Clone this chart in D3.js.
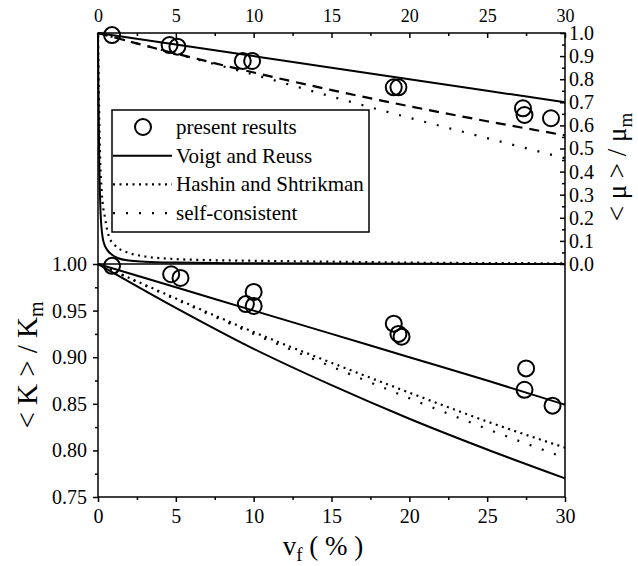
<!DOCTYPE html>
<meta charset="utf-8">
<head>
<title>Moduli vs volume fraction</title>
<script src="https://d3js.org/d3.v7.min.js"></script>
<style>
  body { margin: 0; background: #fff; }
  text { font-family: "Liberation Serif", "Times New Roman", serif; fill: #000; }
  .axis path, .axis line { stroke: #000; stroke-width: 1.5; }
</style>
</head>
<body>
<div id="chart"></div>
<script>
  // values (vf in %)
  let vfGrid = [0, 5, 10, 15, 20, 25, 30];

  // shear modulus <mu>/mu_m (upper panel)
  let muVoigt = [1, 0.95, 0.90, 0.85, 0.80, 0.75, 0.70];
  let muHSupper = [1, 0.911, 0.829, 0.753, 0.683, 0.618, 0.557];
  let muSC = [1, 0.91, 0.82, 0.725, 0.633, 0.545, 0.458];
  let vfMuReuss = [0, 0.03, 0.08, 0.15, 0.25, 0.35, 0.6, 0.9, 1.3, 2, 3, 5, 10, 30];
  let muReuss = [1, 0.75, 0.45, 0.25, 0.14, 0.097, 0.06, 0.04, 0.025, 0.015, 0.01, 0.006, 0.003, 0];
  let vfMuHSlower = [0, 0.05, 0.12, 0.24, 0.45, 0.7, 1.1, 1.9, 2.8, 4.8, 7, 10, 15, 20, 30];
  let muHSlower = [1, 0.75, 0.5, 0.31, 0.2, 0.12, 0.08, 0.05, 0.035, 0.022, 0.017, 0.014, 0.01, 0.006, 0.003];
  let vfMuData = [0.9, 4.6, 5.1, 9.3, 9.9, 19.0, 19.3, 27.3, 27.4, 29.1];
  let muData = [0.991, 0.948, 0.941, 0.879, 0.879, 0.765, 0.765, 0.674, 0.645, 0.631];

  // bulk modulus <K>/K_m (lower panel)
  let kVoigt = [1, 0.975, 0.95, 0.925, 0.90, 0.875, 0.849];
  let kReuss = [1, 0.953, 0.909, 0.870, 0.834, 0.801, 0.770];
  let kHS = [1, 0.963, 0.927, 0.894, 0.862, 0.831, 0.803];
  let kSC = [1, 0.962, 0.925, 0.890, 0.856, 0.823, 0.792];
  let vfKData = [0.9, 4.7, 5.3, 9.5, 10.0, 10.0, 19.0, 19.3, 19.5, 27.5, 27.4, 29.2];
  let kData = [0.998, 0.989, 0.985, 0.957, 0.955, 0.970, 0.936, 0.925, 0.922, 0.888, 0.865, 0.848];

  let xTicks = [0, 5, 10, 15, 20, 25, 30];
  let muTicks = [0, 0.1, 0.2, 0.3, 0.4, 0.5, 0.6, 0.7, 0.8, 0.9, 1.0];
  let kTicks = [0.75, 0.80, 0.85, 0.90, 0.95, 1.00];

  let w = 638, h = 566;

  let svg = d3.select("#chart").append("svg")
              .attr("width", w)
              .attr("height", h);

  let x = d3.scaleLinear().domain([0, 30]).range([98, 565]);
  let yMu = d3.scaleLinear().domain([0, 1]).range([264, 33]);
  let yK = d3.scaleLinear().domain([0.75, 1]).range([497, 264]);

  // frame
  let frame = d3.path();
  frame.moveTo(x(0), yMu(1)); frame.lineTo(x(30), yMu(1));
  frame.lineTo(x(30), yK(0.75)); frame.lineTo(x(0), yK(0.75)); frame.closePath();
  frame.moveTo(x(0), yMu(0)); frame.lineTo(x(30), yMu(0));
  svg.append("path").attr("d", frame.toString())
     .attr("fill", "none").attr("stroke", "#000").attr("stroke-width", 1.5);

  // axes
  let minorX = d3.range(2.5, 30, 5);

  let topAxis = svg.append("g").attr("class", "axis")
     .attr("transform", "translate(0," + yMu(1) + ")")
     .call(d3.axisTop(x).tickValues(xTicks).tickSize(-5).tickPadding(11).tickFormat(d3.format("d")));
  topAxis.selectAll("text").style("font-size", "18px");
  svg.append("g").attr("class", "axis")
     .attr("transform", "translate(0," + yMu(1) + ")")
     .call(d3.axisTop(x).tickValues(minorX).tickSize(-3).tickFormat(""));

  let bottomAxis = svg.append("g").attr("class", "axis")
     .attr("transform", "translate(0," + yK(0.75) + ")")
     .call(d3.axisBottom(x).tickValues(xTicks).tickSize(5).tickPadding(7).tickFormat(d3.format("d")));
  bottomAxis.selectAll("text").style("font-size", "20px");
  svg.append("g").attr("class", "axis")
     .attr("transform", "translate(0," + yK(0.75) + ")")
     .call(d3.axisBottom(x).tickValues(minorX).tickSize(3).tickFormat(""));

  let leftAxis = svg.append("g").attr("class", "axis")
     .attr("transform", "translate(" + x(0) + ",0)")
     .call(d3.axisLeft(yK).tickValues(kTicks).tickSize(5).tickPadding(6).tickFormat(d3.format(".2f")));
  leftAxis.selectAll("text").style("font-size", "20px");
  svg.append("g").attr("class", "axis")
     .attr("transform", "translate(" + x(0) + ",0)")
     .call(d3.axisLeft(yK).tickValues([0.775, 0.825, 0.875, 0.925, 0.975]).tickSize(3).tickFormat(""));

  let rightAxis = svg.append("g").attr("class", "axis")
     .attr("transform", "translate(" + x(30) + ",0)")
     .call(d3.axisRight(yMu).tickValues(muTicks).tickSize(-5).tickPadding(4).tickFormat(d3.format(".1f")));
  rightAxis.selectAll("text").style("font-size", "20px");
  svg.append("g").attr("class", "axis")
     .attr("transform", "translate(" + x(30) + ",0)")
     .call(d3.axisRight(yMu).tickValues(d3.range(0.05, 1, 0.1)).tickSize(-3).tickFormat(""));

  svg.selectAll(".axis path.domain").remove();

  // curves
  let muLine = d3.line().x((d) => x(d[0])).y((d) => yMu(d[1])).curve(d3.curveMonotoneX);
  let kLine = d3.line().x((d) => x(d[0])).y((d) => yK(d[1])).curve(d3.curveMonotoneX);
  let pairs = (xs, ys) => xs.map((v, i) => [v, ys[i]]);

  let curves = [
    [muLine, pairs(vfGrid, muVoigt), null],
    [muLine, pairs(vfMuReuss, muReuss), null],
    [muLine, pairs(vfMuHSlower, muHSlower), "2,4.5"],
    [muLine, pairs(vfGrid, muHSupper), "10,7"],
    [muLine, pairs(vfGrid, muSC), "2,11"],
    [kLine, pairs(vfGrid, kVoigt), null],
    [kLine, pairs(vfGrid, kReuss), null],
    [kLine, pairs(vfGrid, kHS), "2,4.5"],
    [kLine, pairs(vfGrid, kSC), "2,11"]
  ];

  curves.forEach((c) => {
    svg.append("path")
       .attr("d", c[0](c[1]))
       .attr("fill", "none")
       .attr("stroke", "#000")
       .attr("stroke-width", c[2] ? 2.2 : 2)
       .attr("stroke-dasharray", c[2]);
  });

  // data points
  svg.selectAll("circle.mu")
     .data(pairs(vfMuData, muData))
     .enter()
     .append("circle")
     .attr("class", "mu")
     .attr("cx", (d) => x(d[0]))
     .attr("cy", (d) => yMu(d[1]))
     .attr("r", 8)
     .attr("fill", "none").attr("stroke", "#000").attr("stroke-width", 2);

  svg.selectAll("circle.k")
     .data(pairs(vfKData, kData))
     .enter()
     .append("circle")
     .attr("class", "k")
     .attr("cx", (d) => x(d[0]))
     .attr("cy", (d) => yK(d[1]))
     .attr("r", 8)
     .attr("fill", "none").attr("stroke", "#000").attr("stroke-width", 2);

  // legend
  let legend = svg.append("g");
  legend.append("rect")
        .attr("x", 112).attr("y", 110).attr("width", 257).attr("height", 122)
        .attr("fill", "#fff").attr("stroke", "#000").attr("stroke-width", 1.5);

  let legendItems = [["present results", "circle"], ["Voigt and Reuss", null], ["Hashin and Shtrikman", "2,4.5"], ["self-consistent", "2,11"]];

  legendItems.forEach((d, i) => {
    let ly = 127 + i * 28.7;
    if (d[1] == "circle") {
      legend.append("circle").attr("cx", 143).attr("cy", ly).attr("r", 8)
            .attr("fill", "none").attr("stroke", "#000").attr("stroke-width", 2);
    } else {
      legend.append("line").attr("x1", 113).attr("x2", 172).attr("y1", ly).attr("y2", ly)
            .attr("stroke", "#000").attr("stroke-width", d[1] ? 2.2 : 2)
            .attr("stroke-dasharray", d[1]);
    }
    legend.append("text").attr("x", 176).attr("y", ly + 7)
          .style("font-size", "21px").text(d[0]);
  });

  // axis titles
  let kTitle = svg.append("text")
     .attr("transform", "translate(37,365) rotate(-90)")
     .attr("text-anchor", "middle")
     .style("font-size", "29px");
  kTitle.append("tspan").text("< K > / K");
  kTitle.append("tspan").attr("baseline-shift", "-30%").style("font-size", "20px").text("m");

  let muTitle = svg.append("text")
     .attr("transform", "translate(626,167) rotate(-90)")
     .attr("text-anchor", "middle")
     .style("font-size", "27px");
  muTitle.append("tspan").text("< μ > / μ");
  muTitle.append("tspan").attr("baseline-shift", "-30%").style("font-size", "19px").text("m");

  let xTitle = svg.append("text")
     .attr("x", 323).attr("y", 555)
     .attr("text-anchor", "middle")
     .style("font-size", "27px");
  xTitle.append("tspan").text("v");
  xTitle.append("tspan").attr("baseline-shift", "-30%").style("font-size", "19px").text("f");
  xTitle.append("tspan").text(" ( % )");
</script>
</body>
